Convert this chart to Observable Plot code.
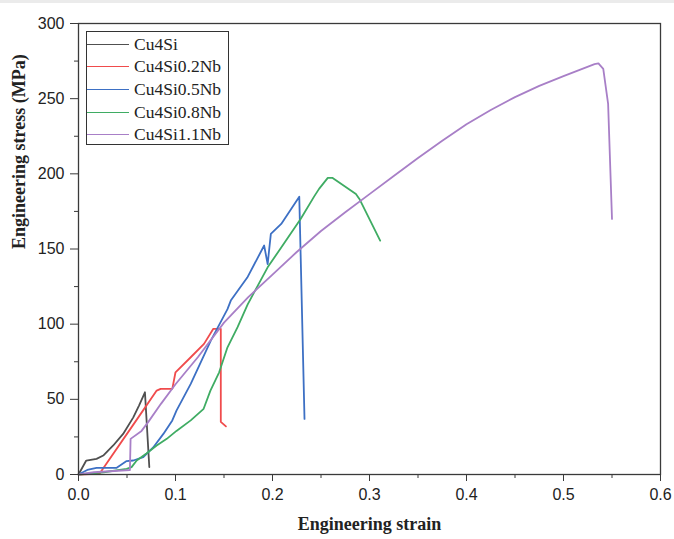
<!DOCTYPE html>
<html>
<head>
<meta charset="utf-8">
<script src="https://cdn.jsdelivr.net/npm/d3@7"></script>
<script src="https://cdn.jsdelivr.net/npm/@observablehq/plot@0.6"></script>
<style>
  html, body { margin: 0; padding: 0; }
  body { width: 674px; height: 539px; overflow: hidden; background: linear-gradient(#ebebeb 0 3px, #ffffff 3px); }
  #wrap { position: relative; width: 674px; height: 539px; }
  #legend { position: absolute; left: 86px; top: 31px; width: 143px; height: 114px; border: 1px solid #333; background: #fff; box-sizing: border-box;
            font-family: "Liberation Serif", serif; font-size: 17.5px; color: #222; }
  .item { position: absolute; left: 0; height: 22px; display: flex; align-items: center; }
  .item span.sw { display: inline-block; width: 42px; height: 0; border-top: 1.5px solid; margin-right: 5px; }
</style>
</head>
<body>
<div id="wrap"></div>
<script>
const seriesNames = ["Cu4Si", "Cu4Si0.2Nb", "Cu4Si0.5Nb", "Cu4Si0.8Nb", "Cu4Si1.1Nb"];
const seriesColors = ["#505050", "#f04b4c", "#3d70c4", "#3fac63", "#a87fc7"];

// [strain, stress (MPa)]
const cu4si = [[0,0],[0.008,9.3],[0.0186,10.4],[0.0255,12.6],[0.0358,19.3],[0.046,27],[0.0565,38],[0.0625,46],[0.0685,54.7],[0.073,5]];
const cu4si02 = [[0,0],[0.012,0.3],[0.022,0.8],[0.0606,37],[0.0806,55.8],[0.0847,57],[0.0967,57],[0.100,68],[0.1157,78],[0.1294,86.9],[0.139,96.9],[0.1467,96.9],[0.1467,35],[0.152,32]];
const cu4si05 = [[0,0],[0.009,3],[0.0186,4.4],[0.039,4.4],[0.0496,8.9],[0.0565,9.3],[0.0668,11.5],[0.077,18],[0.0875,27],[0.0967,36],[0.101,42.5],[0.1157,60.3],[0.1364,89],[0.1536,110],[0.157,115.7],[0.174,131],[0.1914,152.3],[0.195,140],[0.1983,160],[0.209,166.7],[0.2276,184.8],[0.233,37]];
const cu4si08 = [[0,0],[0.026,1.5],[0.0496,3.8],[0.0547,4.9],[0.060,9.3],[0.070,14],[0.0806,19.3],[0.091,23.7],[0.101,29],[0.1157,36],[0.129,43.7],[0.136,55.8],[0.145,68],[0.1536,84.6],[0.164,98],[0.1743,113],[0.195,137.8],[0.209,151],[0.229,170],[0.243,185],[0.248,190],[0.257,197.3],[0.262,197.3],[0.286,186.6],[0.2896,183.3],[0.311,155.6]];
const cu4si11 = [[0,0],[0.016,1.5],[0.053,3],[0.0537,23.7],[0.065,29],[0.072,35],[0.085,47],[0.1,60],[0.123,78],[0.15,101],[0.175,118],[0.2,133],[0.225,148],[0.25,162],[0.275,174.5],[0.3,186.5],[0.325,198.5],[0.35,210.5],[0.375,222],[0.4,233],[0.425,242.5],[0.45,251],[0.475,258.5],[0.5,265],[0.52,270],[0.532,273],[0.536,273.5],[0.541,269.8],[0.546,246.5],[0.550,170]];

const xTicks = [0, 0.1, 0.2, 0.3, 0.4, 0.5, 0.6];
const xMinor = [0.05, 0.15, 0.25, 0.35, 0.45, 0.55];
const yTicks = [0, 50, 100, 150, 200, 250, 300];
const yMinor = [25, 75, 125, 175, 225, 275];
const xTitle = "Engineering strain";
const yTitle = "Engineering stress (MPa)";

const seriesData = [cu4si, cu4si02, cu4si05, cu4si08, cu4si11];
const rows = seriesData.flatMap((arr, i) => arr.map(([x, y]) => ({series: seriesNames[i], x, y})));

const tickFont = {fontFamily: "'Liberation Sans', Arial, sans-serif", fontSize: 16, fill: "#222"};

const chart = Plot.plot({
  width: 674,
  height: 539,
  marginLeft: 78,
  marginRight: 14,
  marginTop: 23,
  marginBottom: 65,
  style: {background: "transparent", overflow: "visible"},
  x: {domain: [0, 0.6]},
  y: {domain: [0, 300]},
  color: {domain: seriesNames, range: seriesColors},
  marks: [
    Plot.line(rows, {x: "x", y: "y", z: "series", stroke: "series", strokeWidth: 1.8, strokeLinejoin: "round"}),
    Plot.frame({stroke: "#3a3a3a", strokeWidth: 1.3}),
    Plot.axisX({ticks: xTicks, tickFormat: d3.format(".1f"), tickSize: 7, tickPadding: 7, stroke: "#3a3a3a", label: null, ...tickFont}),
    Plot.axisX({ticks: xMinor, tickSize: 4, text: null, stroke: "#3a3a3a", label: null}),
    Plot.axisY({ticks: yTicks, tickFormat: d3.format("d"), tickSize: 8, tickPadding: 6, stroke: "#3a3a3a", label: null, ...tickFont}),
    Plot.axisY({ticks: yMinor, tickSize: 4, text: null, stroke: "#3a3a3a", label: null}),
    Plot.text([xTitle], {text: d => d, frameAnchor: "bottom", dy: 55, fontFamily: "'Liberation Serif', serif", fontWeight: "bold", fontSize: 18, fill: "#222"}),
    Plot.text([yTitle], {text: d => d, frameAnchor: "left", dx: -59, rotate: -90, fontFamily: "'Liberation Serif', serif", fontWeight: "bold", fontSize: 18, fill: "#222"})
  ]
});

const wrap = document.getElementById("wrap");
wrap.appendChild(chart);

const legend = document.createElement("div");
legend.id = "legend";
seriesNames.forEach((name, i) => {
  const item = document.createElement("div");
  item.className = "item";
  item.style.top = (1 + i * 22.7) + "px";
  const sw = document.createElement("span");
  sw.className = "sw";
  sw.style.borderTopColor = seriesColors[i];
  item.appendChild(sw);
  const t = document.createElement("span");
  t.textContent = name;
  item.appendChild(t);
  legend.appendChild(item);
});
wrap.appendChild(legend);
</script>
</body>
</html>
